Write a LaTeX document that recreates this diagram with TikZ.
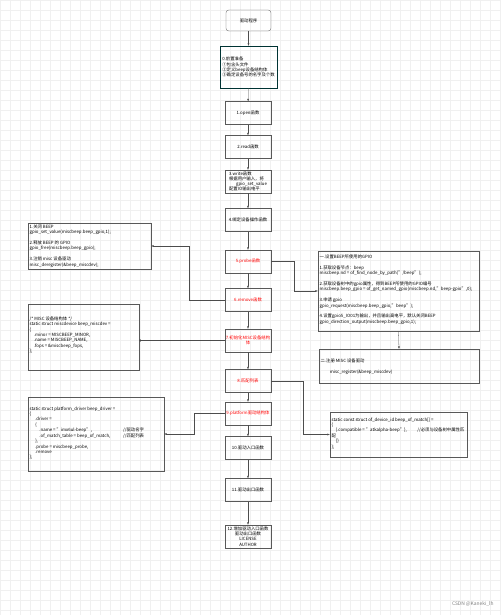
\documentclass[tikz,border=0pt]{standalone}
\usepackage{fontspec}
\setmainfont{Noto Sans CJK SC}
\usepackage{tikz}
\usetikzlibrary{arrows.meta, positioning, calc}

\tikzset{
  stepbox/.style={draw=black!65, minimum width=2.3cm, minimum height=1.15cm, align=center, inner sep=1pt, font=\fontsize{6.2}{7.4}\selectfont},
  keybox/.style={stepbox, text=red},
  infobox/.style={draw=black!65, inner sep=0pt},
  infotext/.style={align=left, anchor=north west, inner sep=0pt, font=\fontsize{6.2}{7.7}\selectfont},
  flow/.style={draw=black!70, -{Latex[length=3.5pt,width=2.8pt]}}
}

\begin{document}
\begin{tikzpicture}[x=0.05cm, y=-0.05cm]
  \useasboundingbox (0,0) rectangle (500,615);
  \draw[step=0.5cm, gray!12, very thin] (0cm,0cm) grid (25cm,-30.75cm);

  % main column
  \node[stepbox, rounded corners=4pt, minimum width=2.25cm, minimum height=1.05cm] (start) at (248.5,20.5) {驱动程序};
  \node[stepbox, draw=black!60!teal, minimum width=2.85cm, minimum height=2.1cm, align=left] (f0) at (248.5,67)
    {0.前置准备\\①包含头文件\\②定义beep设备结构体\\③确定设备号的名字及个数};
  \node[stepbox] (f1) at (248,113) {1.open函数};
  \node[stepbox] (f2) at (248,147) {2.read函数};
  \node[stepbox, align=left] (f3) at (248,181.5) {3.write函数\\根据用户输入，将\\\hspace*{10pt}gpio\_set\_value\\配置IO输出电平};
  \node[stepbox] (f4) at (248,220) {4.绑定设备操作函数};
  \node[keybox] (f5) at (248,261.5) {5.probe函数};
  \node[keybox] (f6) at (248,300) {6.remove函数};
  \node[keybox] (f7) at (248,340.5) {7.初始化MISC设备结构\\体};
  \node[keybox] (f8) at (248,381) {8.匹配列表};
  \node[keybox] (f9) at (248,413.5) {9.platform驱动结构体};
  \node[stepbox] (f10) at (248,448) {10.驱动入口函数};
  \node[stepbox] (f11) at (248,490) {11.驱动出口函数};
  \node[stepbox] (f12) at (248,536.5) {12.增加驱动入口函数\\驱动出口函数\\LICENSE\\AUTHOR};

  \draw[flow] (start) -- (f0);
  \draw[flow] (f0) -- (f1);
  \draw[flow] (f1) -- (f2);
  \draw[flow] (f2) -- (f3);
  \draw[flow] (f3) -- (f4);
  \draw[flow] (f4) -- (f5);
  \draw[flow] (f5) -- (f6);
  \draw[flow] (f6) -- (f7);
  \draw[flow] (f7) -- (f8);
  \draw[flow] (f8) -- (f9);
  \draw[flow] (f9) -- (f10);
  \draw[flow] (f10) -- (f11);
  \draw[flow] (f11) -- (f12);

  % probe details
  \node[infobox, minimum width=8.05cm, minimum height=4cm] (d5) at (398.5,291) {};
  \node[infotext] (t5) at (319.5,254.5) {一.设置BEEP所使用的GPIO\\[7.7pt]
    1.获取设备节点：beep\\
    miscbeep.nd = of\_find\_node\_by\_path("/beep");\\[7.7pt]
    2.获取设备树中的gpio属性，得到BEEP所使用的GPIO编号\\
    miscbeep.beep\_gpio = of\_get\_named\_gpio(miscbeep.nd,"beep-gpio",0);\\[7.7pt]
    3.申请 gpio\\
    gpio\_request(miscbeep.beep\_gpio,"beep");\\[7.7pt]
    4.设置gpio5\_IO01为输出，并且输出高电平，默认关闭BEEP\\
    gpio\_direction\_output(miscbeep.beep\_gpio,1);};
  \node[infobox, minimum width=8cm, minimum height=1.7cm] (d5b) at (399,366) {};
  \node[infotext] (t5b) at (320.5,358.5) {二.注册 MISC 设备驱动\\[7.7pt]
    \hspace*{13pt}misc\_register(\&beep\_miscdev)};
  \coordinate (r5) at (294,291);
  \draw[flow] (f5.east) -| (r5) -- (d5.west);
  \draw[flow] (d5.south) -- (d5b.north);

  % remove details
  \node[infobox, minimum width=6.15cm, minimum height=2.3cm] (d6) at (89.5,246) {};
  \node[infotext] (t6) at (29.5,224.5) {1.关闭 BEEP\\
    gpio\_set\_value(miscbeep.beep\_gpio,1);\\[7.7pt]
    2.释放 BEEP 的 GPIO\\
    gpio\_free(miscbeep.beep\_gpio);\\[7.7pt]
    3.注销 misc 设备驱动\\
    misc\_deregister(\&beep\_miscdev);};
  \coordinate (r6) at (189,246);
  \draw[flow] (f6.west) -| (r6) -- (d6.east);

  % misc struct
  \node[infobox, minimum width=5.55cm, minimum height=3.3cm] (d7) at (83.5,337) {};
  \node[infotext] (t7) at (29.5,316.5) {/* MISC 设备结构体 */\\
    static struct miscdevice beep\_miscdev =\\
    \{\\
    \hspace*{6pt}.minor = MISCBEEP\_MINOR,\\
    \hspace*{6pt}.name = MISCBEEP\_NAME,\\
    \hspace*{6pt}.fops = \&miscbeep\_fops,\\
    \};};
  \draw[{Circle[length=3pt]}-, draw=black!70] (f7.west -| d7.east) -- (f7.west);

  % match table
  \node[infobox, minimum width=6.85cm, minimum height=2.25cm] (d8) at (398.5,434.5) {};
  \node[infotext] (t8) at (331.5,417.5) {static const struct of\_device\_id beep\_of\_match[] =\\
    \{\\
    \hspace*{6pt}\makebox[116pt][l]{\{.compatible = "atkalpha-beep"\},}//必须与设备树中属性匹\\
    配\\
    \hspace*{6pt}\{\}\\
    \};};
  \coordinate (r8) at (303,434.5);
  \draw[flow] (f8.east) -| (r8) -- (d8.west);

  % platform driver
  \node[infobox, minimum width=6.8cm, minimum height=3.7cm] (d9) at (96,434) {};
  \node[infotext] (t9) at (29.5,406.5) {static struct platform\_driver beep\_driver =\\
    \{\\
    \hspace*{8pt}.driver =\\
    \hspace*{8pt}\{\\
    \hspace*{14pt}\makebox[119pt][l]{.name = "imx6ul-beep",}//驱动名字\\
    \hspace*{14pt}\makebox[119pt][l]{.of\_match\_table = beep\_of\_match,}//匹配列表\\
    \hspace*{8pt}\},\\
    \hspace*{8pt}.probe = miscbeep\_probe,\\
    \hspace*{8pt}.remove\\
    \};};
  \coordinate (r9) at (194,434);
  \draw[flow] (f9.west) -| (r9) -- (d9.east);

  \node[anchor=east, text=gray, font=\fontsize{7}{8}\selectfont] (mark) at (496,604) {CSDN @Kaneki\_lh};
\end{tikzpicture}
\end{document}
